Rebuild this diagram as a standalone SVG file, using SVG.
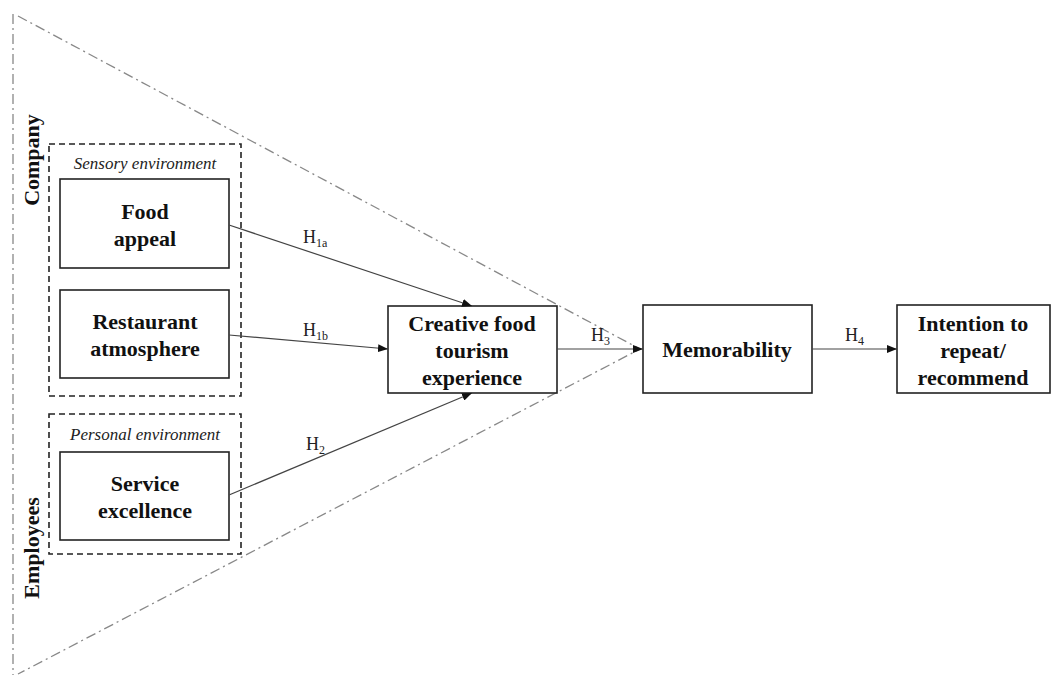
<svg xmlns="http://www.w3.org/2000/svg" width="1056" height="678" viewBox="0 0 1056 678">
<style>
.box{fill:#fff;stroke:#222;stroke-width:1.6}
.grp{fill:none;stroke:#222;stroke-width:1.6;stroke-dasharray:6 4}
.tri{fill:none;stroke:#888;stroke-width:1.3;stroke-dasharray:10 4 2 4}
.t{font-family:"Liberation Serif",serif;font-weight:bold;font-size:22px;fill:#111;text-anchor:middle}
.it{font-family:"Liberation Serif",serif;font-style:italic;font-size:17px;fill:#222;text-anchor:middle}
.h{font-family:"Liberation Serif",serif;font-size:18px;fill:#222}
.sub{font-size:12px}
.c{stroke:#444;stroke-width:1.2;fill:none;marker-end:url(#ah)}
</style>
<defs>
<marker id="ah" markerWidth="10" markerHeight="8" refX="10" refY="4" orient="auto" markerUnits="userSpaceOnUse">
<path d="M0,0 L10,4 L0,8 Z" fill="#111"/>
</marker>
</defs>
<rect width="1056" height="678" fill="#fff"/>
<g id="triangle">
<path class="tri" d="M13,14 L13,675"/>
<path class="tri" d="M18,16 L640,349 L18,674"/>
</g>
<text class="t" transform="translate(39,160) rotate(-90)">Company</text>
<text class="t" transform="translate(39,548) rotate(-90)">Employees</text>
<g id="sensory">
<rect class="grp" x="49" y="144" width="192" height="252"/>
<text class="it" x="145" y="169">Sensory environment</text>
</g>
<g id="personal">
<rect class="grp" x="49" y="414" width="192" height="140"/>
<text class="it" x="145" y="440">Personal environment</text>
</g>
<g id="food">
<rect class="box" x="60" y="179" width="169" height="89"/>
<text class="t" x="145" y="219">Food</text>
<text class="t" x="145" y="246">appeal</text>
</g>
<g id="restaurant">
<rect class="box" x="60" y="290" width="169" height="88"/>
<text class="t" x="145" y="329">Restaurant</text>
<text class="t" x="145" y="356">atmosphere</text>
</g>
<g id="service">
<rect class="box" x="60" y="452" width="169" height="88"/>
<text class="t" x="145" y="491">Service</text>
<text class="t" x="145" y="518">excellence</text>
</g>
<g id="creative">
<rect class="box" x="388" y="306" width="169" height="87"/>
<text class="t" x="472" y="331">Creative food</text>
<text class="t" x="472" y="358">tourism</text>
<text class="t" x="472" y="385">experience</text>
</g>
<g id="memorability">
<rect class="box" x="643" y="305" width="169" height="88"/>
<text class="t" x="727" y="357">Memorability</text>
</g>
<g id="intention">
<rect class="box" x="897" y="305" width="153" height="88"/>
<text class="t" x="973" y="331">Intention to</text>
<text class="t" x="973" y="358">repeat/</text>
<text class="t" x="973" y="385">recommend</text>
</g>
<g id="connectors">
<path class="c" d="M229,225 L472,306"/>
<path class="c" d="M229,335 L388,349"/>
<path class="c" d="M229,495 L472,393"/>
<path class="c" d="M557,349 L643,349"/>
<path class="c" d="M812,349 L897,349"/>
<text class="h" x="303" y="243">H<tspan class="sub" dy="4">1a</tspan></text>
<text class="h" x="303" y="336">H<tspan class="sub" dy="4">1b</tspan></text>
<text class="h" x="306" y="450">H<tspan class="sub" dy="4">2</tspan></text>
<text class="h" x="591" y="341">H<tspan class="sub" dy="4">3</tspan></text>
<text class="h" x="845" y="341">H<tspan class="sub" dy="4">4</tspan></text>
</g>
</svg>
